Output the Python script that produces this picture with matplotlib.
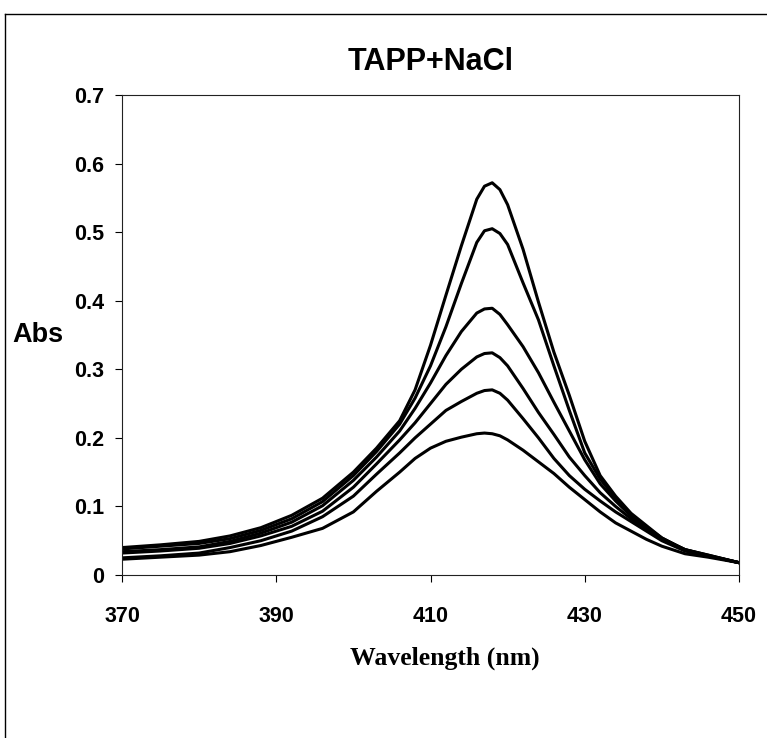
import matplotlib
matplotlib.use("Agg")
import matplotlib.pyplot as plt
from matplotlib.lines import Line2D

# wavelength grid (nm)
wavelength = [370, 375, 380, 384, 388, 392, 396, 400, 403, 406, 408, 410, 412, 414, 416, 417,
              418, 419, 420, 422, 424, 426, 428, 430, 432, 434, 436, 438, 440, 443, 446, 450]

# absorbance, one list per NaCl concentration (highest peak first)
abs_1 = [0.040, 0.044, 0.049, 0.057, 0.069, 0.087, 0.112, 0.150, 0.185, 0.225, 0.270, 0.335, 0.408, 0.480, 0.548, 0.567,
         0.572, 0.562, 0.540, 0.475, 0.398, 0.325, 0.262, 0.195, 0.145, 0.115, 0.090, 0.072, 0.054, 0.036, 0.028, 0.018]
abs_2 = [0.038, 0.042, 0.046, 0.053, 0.065, 0.082, 0.107, 0.145, 0.180, 0.220, 0.258, 0.305, 0.362, 0.425, 0.485, 0.502,
         0.505, 0.498, 0.482, 0.426, 0.372, 0.305, 0.240, 0.178, 0.140, 0.112, 0.088, 0.070, 0.054, 0.037, 0.028, 0.018]
abs_3 = [0.034, 0.037, 0.041, 0.049, 0.061, 0.077, 0.101, 0.138, 0.172, 0.210, 0.243, 0.280, 0.320, 0.355, 0.382, 0.388,
         0.389, 0.380, 0.365, 0.333, 0.295, 0.252, 0.210, 0.168, 0.133, 0.108, 0.086, 0.068, 0.053, 0.037, 0.029, 0.018]
abs_4 = [0.032, 0.035, 0.039, 0.046, 0.057, 0.071, 0.093, 0.128, 0.162, 0.197, 0.222, 0.250, 0.278, 0.300, 0.318, 0.323,
         0.324, 0.317, 0.305, 0.272, 0.237, 0.205, 0.172, 0.145, 0.120, 0.100, 0.082, 0.066, 0.052, 0.037, 0.029, 0.018]
abs_5 = [0.025, 0.028, 0.032, 0.040, 0.050, 0.064, 0.085, 0.115, 0.147, 0.178, 0.200, 0.220, 0.240, 0.253, 0.265, 0.269,
         0.270, 0.265, 0.255, 0.228, 0.200, 0.170, 0.145, 0.125, 0.108, 0.092, 0.078, 0.064, 0.050, 0.035, 0.028, 0.018]
abs_6 = [0.023, 0.026, 0.029, 0.034, 0.043, 0.055, 0.068, 0.092, 0.122, 0.150, 0.170, 0.185, 0.195, 0.201, 0.206, 0.207,
         0.206, 0.203, 0.197, 0.182, 0.165, 0.148, 0.128, 0.110, 0.092, 0.076, 0.064, 0.052, 0.042, 0.031, 0.026, 0.018]

x_ticks = [370, 390, 410, 430, 450]
y_ticks = [0, 0.1, 0.2, 0.3, 0.4, 0.5, 0.6, 0.7]
y_ticklabels = ["0", "0.1", "0.2", "0.3", "0.4", "0.5", "0.6", "0.7"]

sans = ["Liberation Sans", "DejaVu Sans"]
serif = ["Liberation Serif", "DejaVu Serif"]

fig = plt.figure(figsize=(7.67, 7.38), dpi=100)
ax = fig.add_axes([122 / 767, 1 - 575 / 738, 617 / 767, 480 / 738])

for series in [abs_1, abs_2, abs_3, abs_4, abs_5, abs_6]:
    ax.plot(wavelength, series, color="black", lw=2.2, solid_joinstyle="round")

ax.set_xlim(370, 450)
ax.set_ylim(0, 0.7)
ax.set_xticks(x_ticks)
ax.set_yticks(y_ticks)
ax.set_yticklabels(y_ticklabels)
ax.tick_params(direction="out", length=5, width=0.8, color="black")
ax.tick_params(axis="x", pad=17)
ax.tick_params(axis="y", pad=8)
for lab in ax.get_xticklabels() + ax.get_yticklabels():
    lab.set_family(sans)
    lab.set_fontweight("bold")
    lab.set_fontsize(15.5)
for sp in ax.spines.values():
    sp.set_linewidth(0.8)
    sp.set_color("#222222")

fig.text(431 / 767, 1 - 62 / 738, "TAPP+NaCl", ha="center", va="center",
         family=sans, fontweight="bold", fontsize=22)
fig.text(38 / 767, 1 - 335 / 738, "Abs", ha="center", va="center",
         family=sans, fontweight="bold", fontsize=19.5)
fig.text(445 / 767, 1 - 658 / 738, "Wavelength (nm)", ha="center", va="center",
         family=serif, fontweight="bold", fontsize=18.5)

# outer frame of the original chart (top and left edges)
fig.add_artist(Line2D([5 / 767, 1], [1 - 14 / 738, 1 - 14 / 738], transform=fig.transFigure,
                      color="black", lw=1))
fig.add_artist(Line2D([5 / 767, 5 / 767], [0, 1 - 14 / 738], transform=fig.transFigure,
                      color="black", lw=1))

fig.savefig("out.png", dpi=100)
